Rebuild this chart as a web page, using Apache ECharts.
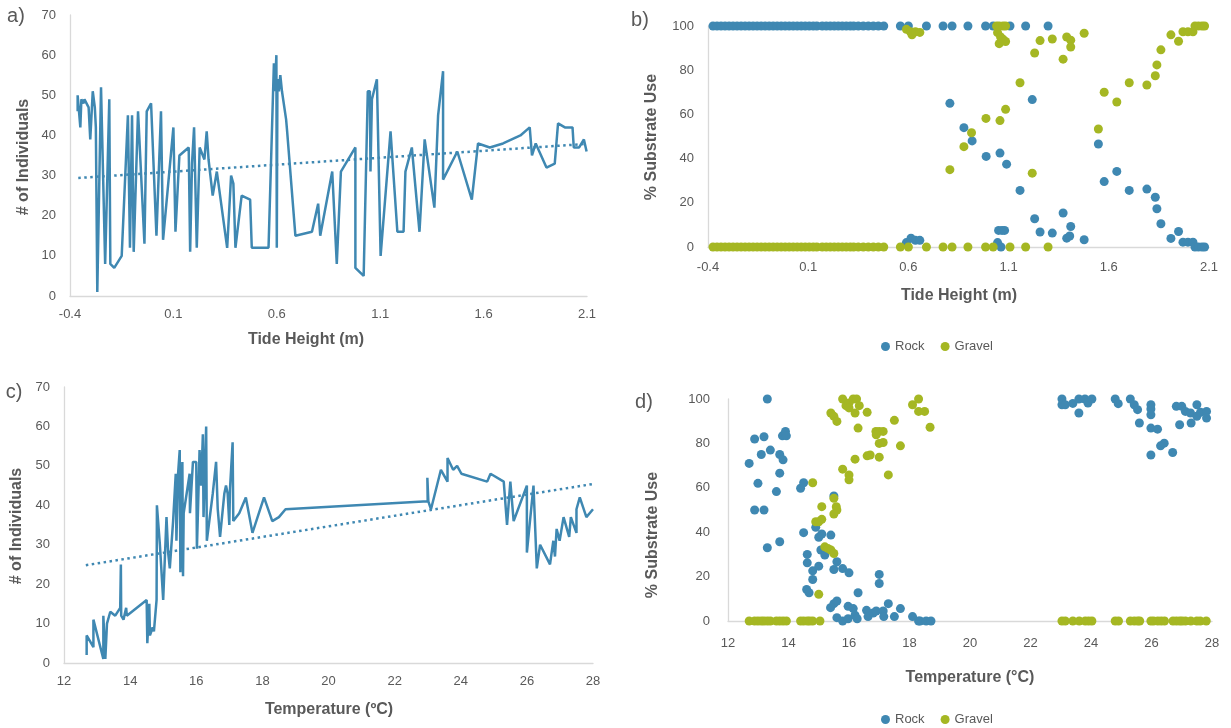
<!DOCTYPE html>
<html><head><meta charset="utf-8">
<script src="https://cdn.jsdelivr.net/npm/echarts@6/dist/echarts.min.js"></script>
<style>html,body{margin:0;padding:0;background:#fff}#c{width:1231px;height:728px}</style>
</head><body><div id="c"></div>
<script>
// ---------- Panel a: # of individuals vs tide height ----------
const tideA = [-0.363,-0.363,-0.355,-0.35,-0.345,-0.335,-0.33,-0.32,-0.31,-0.302,-0.29,-0.28,-0.275,-0.268,-0.262,-0.25,-0.23,-0.21,-0.205,-0.186,-0.15,-0.12,-0.11,-0.1,-0.092,-0.071,-0.04,-0.029,-0.008,0.018,0.04,0.05,0.1,0.11,0.129,0.174,0.181,0.19,0.2,0.213,0.227,0.25,0.261,0.27,0.29,0.31,0.318,0.36,0.379,0.39,0.4,0.43,0.471,0.479,0.56,0.586,0.59,0.598,0.6,0.603,0.61,0.617,0.625,0.645,0.65,0.69,0.77,0.8,0.81,0.868,0.89,0.91,0.98,0.98,1.02,1.04,1.05,1.053,1.06,1.084,1.102,1.15,1.183,1.213,1.222,1.253,1.29,1.315,1.362,1.38,1.404,1.404,1.473,1.543,1.573,1.63,1.694,1.778,1.823,1.834,1.852,1.904,1.944,1.96,1.993,2.03,2.036,2.062,2.085,2.098];
const countA = [46,50,50,42,49,48,49,48,47,39,51,47,42,1,1,52,8,49,8,7,10,45,12,45,11,46,13,46,48,15,46,14,42,16,35,37,11,33,42,12,37,34,41,34,25,31,31,12,30,28,12,25,24,12,12,58,51,60,12,54,51,55,51,44,41,15,16,23,15,31,8,31,37,7,5,51,51,31,49,54,10,41,16,16,31,37,16,39,22,45,56,29,36,24,38,37,38,40,42,35,38,32,33,43,42,42,37,37,39,36];
const trendAX = [-0.36, 2.1];
const trendAY = [29.4, 37.9];

// ---------- Panel b: % substrate use vs tide height ----------
const rockTideX = [-0.375,-0.355,-0.335,-0.315,-0.295,-0.275,-0.255,-0.235,-0.215,-0.195,-0.175,-0.155,-0.135,-0.115,-0.095,-0.075,-0.055,-0.035,-0.015,0.005,0.025,0.045,0.065,0.085,0.105,0.125,0.143,0.17,0.19,0.21,0.23,0.25,0.27,0.29,0.31,0.327,0.35,0.375,0.4,0.425,0.45,0.477,0.56,0.6,0.69,0.773,0.818,0.897,0.985,1.023,1.107,1.185,1.297,
  0.59,0.613,0.635,0.657,0.807,0.877,0.918,0.988,1.057,1.09,1.157,1.218,1.23,1.257,1.318,1.372,1.41,1.39,1.405,1.477,1.05,1.067,1.08,1.045,1.062,1.548,1.577,1.64,1.702,1.79,1.832,1.84,1.86,1.91,1.948,1.97,1.995,2.02,2.03,2.047,2.065,2.078];
const rockTideY = [100,100,100,100,100,100,100,100,100,100,100,100,100,100,100,100,100,100,100,100,100,100,100,100,100,100,100,100,100,100,100,100,100,100,100,100,100,100,100,100,100,100,100,100,100,100,100,100,100,100,100,100,100,
  2,4,3,3,65,54,48,41,42.5,37.5,25.6,66.7,12.8,6.8,6.3,15.4,9.3,4,5,3.3,7.5,7.5,7.5,2,0,46.6,29.6,34.2,25.6,26.2,22.5,17.3,10.5,3.9,7,2.2,2.2,2.2,0,0,0,0];
const gravelTideX = [-0.375,-0.355,-0.335,-0.315,-0.295,-0.275,-0.255,-0.235,-0.215,-0.195,-0.175,-0.155,-0.135,-0.115,-0.095,-0.075,-0.055,-0.035,-0.015,0.005,0.025,0.045,0.065,0.085,0.105,0.125,0.143,0.17,0.19,0.21,0.23,0.25,0.27,0.29,0.31,0.327,0.35,0.375,0.4,0.425,0.45,0.477,0.56,0.6,0.69,0.773,0.818,0.897,0.985,1.023,1.107,1.185,1.297,
  0.59,0.61,0.618,0.635,0.657,1.04,1.053,1.072,1.085,1.045,1.053,1.06,1.072,1.085,1.157,1.085,1.057,0.987,0.915,0.877,0.807,1.218,1.23,1.257,1.318,1.372,1.39,1.41,1.41,1.477,1.548,1.577,1.64,1.702,1.79,1.832,1.84,1.86,1.91,1.948,1.97,1.995,2.02,2.03,2.047,2.065,2.078];
const gravelTideY = [0,0,0,0,0,0,0,0,0,0,0,0,0,0,0,0,0,0,0,0,0,0,0,0,0,0,0,0,0,0,0,0,0,0,0,0,0,0,0,0,0,0,0,0,0,0,0,0,0,0,0,0,0,
  98.5,97.4,96,97.4,97.1,100,100,100,100,97,92,95,94,93,74.3,62.3,57.2,58.2,51.7,45.4,35,33.4,87.8,93.4,94.1,85,95,93.6,90.5,96.7,53.4,70,65.6,74.3,73.3,77.5,82.4,89.2,96,93.1,97.4,97.4,97.4,100,100,100,100];

// ---------- Panel c: # of individuals vs temperature ----------
const tempC = [12.685,12.685,12.89,12.89,13.19,13.19,13.25,13.3,13.4,13.55,13.7,13.72,13.73,13.8,13.88,13.9,14.5,14.52,14.58,14.6,14.68,14.72,14.8,14.81,14.9,15.0,15.1,15.15,15.2,15.3,15.38,15.4,15.45,15.5,15.52,15.58,15.6,15.62,15.8,15.81,15.9,16.0,16.02,16.05,16.1,16.15,16.2,16.22,16.3,16.32,16.5,16.6,16.65,16.72,16.85,16.9,16.95,17.0,17.02,17.1,17.12,17.3,17.5,17.7,18.05,18.3,18.5,18.7,23.0,22.99,23.02,23.1,23.4,23.6,23.6,23.77,23.89,24.02,24.8,24.9,25.3,25.4,25.5,25.6,26.0,26.0,26.2,26.3,26.4,26.7,26.8,26.85,26.9,26.99,27.11,27.28,27.33,27.5,27.5,27.6,27.8,28.0];
const countC = [2,7,4,11,1,12,1,10,13,12,14,25,12,11,14,12,16,5,15,7,9,8,16,40,30,16,37,28,24,36,48,31,48,54,23,51,22,38,48,38,51,51,29,38,54,45,58,37,60,31,43,51,39,32,43,45,43,35,44,56,36,38,42,33,42,36,37,39,41,47,41,39,49,46,52,49,50,48,46,48,46,35,46,36,45,28,45,24,30,25,31,27,34,31,37,32,37,33,39,42,37,39];
const trendCX = [12.66, 28.0];
const trendCY = [24.8, 45.4];

// ---------- Panel d: % substrate use vs temperature ----------
const rockTempX = [13.3,12.7,12.88,13.19,13.1,13.4,12.99,12.88,13.19,13.3,13.71,13.82,13.71,13.6,13.71,13.8,13.9,13.93,14.4,14.5,14.5,14.62,14.62,14.6,14.68,14.8,14.8,14.9,15.0,15.0,15.1,15.07,15.2,15.4,15.5,15.5,15.6,15.79,16.0,15.39,15.5,15.6,15.6,15.79,15.97,15.97,16.14,16.2,16.3,16.27,16.58,16.63,16.8,16.9,17.0,17.0,17.13,17.15,17.3,17.5,17.7,18.1,18.3,18.35,18.55,18.71,
  23.04,23.04,23.15,23.4,23.6,23.6,23.8,23.9,24.03,24.8,24.9,25.3,25.43,25.54,25.6,25.98,25.98,25.98,25.98,26.2,26.3,26.42,25.98,26.7,26.82,27.0,27.12,26.93,27.31,27.29,27.5,27.5,27.62,27.82,27.82];
const rockTempY = [100,71,82,83,75,77,62,50,50,33,75,72.6,66.6,58.3,35.7,83.4,85.4,83.4,59.8,62.3,39.8,30,26.2,14.2,12.7,18.7,22.6,42.2,24.7,37.7,39.2,32,29.7,38.7,56.3,23.2,26.7,23.6,21.7,6,7.8,9,1.5,0,6.6,1,5.6,2.6,12.7,1,4.8,2,3.6,4.5,21,16.9,4.5,2,7.8,2,5.6,2,0,0,0,0,
  100,97.4,97.4,98,100,93.7,100,98.2,100,100,97.9,100,97.4,95.2,89.2,97.4,95.5,92.9,86.9,86.4,78.9,80.1,74.8,75.9,96.7,96.7,94.4,88.4,89.2,93.7,97.4,92.2,94,94.4,91.4];
const gravelTempX = [12.7,12.88,12.99,13.1,13.19,13.3,13.4,13.6,13.71,13.82,13.93,14.4,14.5,14.62,14.7,14.8,15.04,
  14.8,14.9,15.0,15.1,15.1,15.0,15.2,15.3,15.4,15.5,15.5,15.58,15.6,15.5,15.4,15.5,15.6,15.79,15.9,16.0,16.14,16.25,16.0,16.2,16.34,16.3,16.6,15.79,16.0,16.0,16.2,16.6,16.7,16.89,17.0,17.13,16.9,17.0,17.13,17.0,17.3,17.5,17.7,18.1,18.3,18.3,18.5,18.68,
  23.04,23.15,23.4,23.61,23.81,23.92,24.03,24.8,24.91,25.3,25.43,25.54,25.61,25.98,26.07,26.21,26.32,26.43,26.71,26.82,26.93,27.01,27.12,27.3,27.5,27.61,27.81];
const gravelTempY = [0,0,0,0,0,0,0,0,0,0,0,0,0,0,0,0,0,
  62.3,44.7,44.7,51.5,45.8,12,33.4,32.7,32,30.4,55.3,51.5,50,48.2,93.7,92.2,89.9,100,97,98.2,100,100,96,93.7,97,86.9,94,68.4,65.8,63.6,72.9,74.4,74.8,85.4,85.4,85.4,83.9,80,80.4,73.8,65.8,90.4,78.9,97.4,100,94.4,94.4,87.3,
  0,0,0,0,0,0,0,0,0,0,0,0,0,0,0,0,0,0,0,0,0,0,0,0,0,0,0];

// tick labels
const tideTicks = [-0.4, 0.1, 0.6, 1.1, 1.6, 2.1];

const zip = (xs, ys) => xs.map((x, i) => [x, ys[i]]);
const BLUE = '#3F88B2', GREEN = '#A5B723';
const GRAY = '#595959', AX = '#D9D9D9';
const FONT = 'Liberation Sans';

function xAx(gi, opt) {
  return Object.assign({
    type: 'value', gridIndex: gi,
    axisLine: { show: true, onZero: false, lineStyle: { color: AX, width: 1.3 } },
    axisTick: { show: false }, splitLine: { show: false },
    axisLabel: { color: GRAY, fontSize: 13, fontFamily: FONT, margin: 12 }
  }, opt);
}
function yAx(gi, opt) {
  return Object.assign({
    type: 'value', gridIndex: gi,
    axisLine: { show: true, onZero: false, lineStyle: { color: AX, width: 1.3 } },
    axisTick: { show: false }, splitLine: { show: false },
    axisLabel: { color: GRAY, fontSize: 13, fontFamily: FONT, margin: 14 }
  }, opt);
}
const tideLabel = { color: GRAY, fontSize: 13, fontFamily: FONT, margin: 12, customValues: tideTicks,
  formatter: v => String(Math.round(v * 10) / 10) };

function txt(x, y, s, font, rot) {
  return { type: 'text', x: x, y: y, rotation: rot || 0,
    style: { text: s, x: 0, y: 0, align: 'center', verticalAlign: 'middle', font: font, fill: GRAY } };
}
const TF = 'bold 16px "Liberation Sans"';
const LF = '20px "Liberation Sans"';

const chart = echarts.init(document.getElementById('c'), null, { renderer: 'canvas' });
chart.setOption({
  animation: false,
  backgroundColor: '#fff',
  grid: [
    { left: 70, top: 15, width: 517, height: 281 },
    { left: 708, top: 26, width: 501, height: 221 },
    { left: 64, top: 387, width: 529, height: 276 },
    { left: 728, top: 399, width: 484, height: 222 }
  ],
  xAxis: [
    xAx(0, { min: -0.4, max: 2.1, axisLabel: tideLabel }),
    xAx(1, { min: -0.4, max: 2.1, axisLabel: Object.assign({}, tideLabel, { margin: 14 }) }),
    xAx(2, { min: 12, max: 28, interval: 2 }),
    xAx(3, { min: 12, max: 28, interval: 2, axisLabel: { color: GRAY, fontSize: 13, fontFamily: FONT, margin: 16 } })
  ],
  yAxis: [
    yAx(0, { min: 0, max: 70, interval: 10 }),
    yAx(1, { min: 0, max: 100, interval: 20 }),
    yAx(2, { min: 0, max: 70, interval: 10 }),
    yAx(3, { min: 0, max: 100, interval: 20, axisLabel: { color: GRAY, fontSize: 13, fontFamily: FONT, margin: 18 } })
  ],
  legend: [
    { data: ['Rock', 'Gravel'], left: 876, top: 335, icon: 'circle', itemWidth: 9, itemHeight: 9, itemGap: 16,
      textStyle: { color: GRAY, fontSize: 13, fontFamily: FONT } },
    { data: ['Rock', 'Gravel'], left: 876, top: 708, icon: 'circle', itemWidth: 9, itemHeight: 9, itemGap: 16,
      textStyle: { color: GRAY, fontSize: 13, fontFamily: FONT } }
  ],
  series: [
    { type: 'line', name: 'countTide', xAxisIndex: 0, yAxisIndex: 0, data: zip(tideA, countA), showSymbol: false,
      lineStyle: { color: BLUE, width: 2.5 }, itemStyle: { color: BLUE } },
    { type: 'line', name: 'trendTide', xAxisIndex: 0, yAxisIndex: 0, data: zip(trendAX, trendAY), showSymbol: false,
      lineStyle: { color: BLUE, width: 2.5, type: [2.5, 3.5] } },
    { type: 'scatter', name: 'Rock', xAxisIndex: 1, yAxisIndex: 1, data: zip(rockTideX, rockTideY), symbolSize: 9,
      itemStyle: { color: BLUE, opacity: 1 } },
    { type: 'scatter', name: 'Gravel', xAxisIndex: 1, yAxisIndex: 1, data: zip(gravelTideX, gravelTideY), symbolSize: 9,
      itemStyle: { color: GREEN, opacity: 1 } },
    { type: 'line', name: 'countTemp', xAxisIndex: 2, yAxisIndex: 2, data: zip(tempC, countC), showSymbol: false,
      lineStyle: { color: BLUE, width: 2.5 }, itemStyle: { color: BLUE } },
    { type: 'line', name: 'trendTemp', xAxisIndex: 2, yAxisIndex: 2, data: zip(trendCX, trendCY), showSymbol: false,
      lineStyle: { color: BLUE, width: 2.5, type: [2.5, 3.5] } },
    { type: 'scatter', name: 'Rock', xAxisIndex: 3, yAxisIndex: 3, data: zip(rockTempX, rockTempY), symbolSize: 9,
      itemStyle: { color: BLUE, opacity: 1 } },
    { type: 'scatter', name: 'Gravel', xAxisIndex: 3, yAxisIndex: 3, data: zip(gravelTempX, gravelTempY), symbolSize: 9,
      itemStyle: { color: GREEN, opacity: 1 } }
  ],
  graphic: [
    txt(16, 16, 'a)', LF),
    txt(640, 20, 'b)', LF),
    txt(14, 392, 'c)', LF),
    txt(644, 402, 'd)', LF),
    txt(24, 157, '# of Individuals', TF, Math.PI / 2),
    txt(652, 137, '% Substrate Use', TF, Math.PI / 2),
    txt(17, 526, '# of Individuals', TF, Math.PI / 2),
    txt(653, 535, '% Substrate Use', TF, Math.PI / 2),
    txt(306, 340, 'Tide Height (m)', TF),
    txt(959, 296, 'Tide Height (m)', TF),
    txt(329, 710, 'Temperature (ºC)', TF),
    txt(970, 678, 'Temperature (°C)', TF)
  ]
});
</script>
</body></html>
